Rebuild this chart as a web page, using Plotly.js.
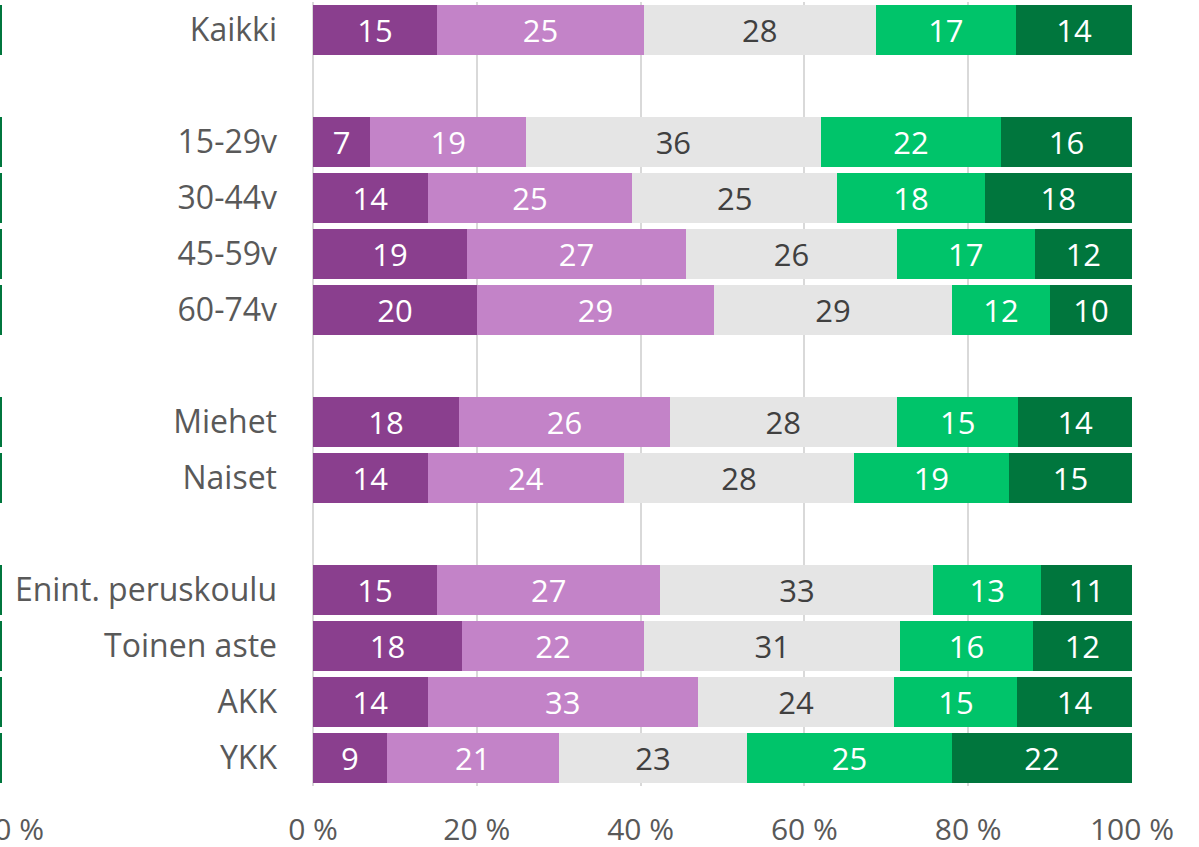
<!DOCTYPE html>
<html>
<head>
<meta charset="utf-8">
<script src="https://cdn.plot.ly/plotly-3.0.1.min.js"></script>
<style>html,body{margin:0;padding:0;background:#fff;}#chart{width:1199px;height:847px;}</style>
</head>
<body>
<div id="chart"></div>
<script>
// Categories (blank entries are the gaps between groups)
const categories = ["Kaikki", " ", "15-29v", "30-44v", "45-59v", "60-74v", "  ", "Miehet", "Naiset", "   ", "Enint. peruskoulu", "Toinen aste", "AKK", "YKK"];

// Series values (percent, as labelled); null for gap rows
const series1 = [15, null, 7, 14, 19, 20, null, 18, 14, null, 15, 18, 14, 9];
const series2 = [25, null, 19, 25, 27, 29, null, 26, 24, null, 27, 22, 33, 21];
const series3 = [28, null, 36, 25, 26, 29, null, 28, 28, null, 33, 31, 24, 23];
const series4 = [17, null, 22, 18, 17, 12, null, 15, 19, null, 13, 16, 15, 25];
const series5 = [14, null, 16, 18, 12, 10, null, 14, 15, null, 11, 12, 14, 22];

// Cut-off neighbouring chart at the left edge: only its bar ends at 100 % are visible
const leftChartEnds = [100, null, 100, 100, 100, 100, null, 100, 100, null, 100, 100, 100, 100];

// Tick labels
const xTickVals = [0, 20, 40, 60, 80, 100];
const xTickText = ["0 %", "20 %", "40 %", "60 %", "80 %", "100 %"];
const leftTickVals = [100];
const leftTickText = ["100 %"];

const colors = ["#8A3F8E", "#C383C8", "#E5E5E5", "#00C46A", "#00763D"];
const textColors = ["#FFFFFF", "#FFFFFF", "#404040", "#FFFFFF", "#FFFFFF"];
const FONT = "'Open Sans', sans-serif";

const allSeries = [series1, series2, series3, series4, series5];
const traces = allSeries.map((vals, i) => ({
  type: "bar",
  orientation: "h",
  y: categories,
  x: vals,
  text: vals.map(v => v == null ? "" : String(v)),
  texttemplate: "%{text}",
  textposition: "inside",
  insidetextanchor: "middle",
  textangle: 0,
  constraintext: "none",
  textfont: {family: FONT, size: 31, color: textColors[i]},
  marker: {color: colors[i], line: {width: 0}},
  hoverinfo: "skip",
  showlegend: false,
  xaxis: "x",
  yaxis: "y"
}));

traces.push({
  type: "bar",
  orientation: "h",
  y: categories,
  x: leftChartEnds,
  marker: {color: "#00763D", line: {width: 0}},
  hoverinfo: "skip",
  showlegend: false,
  xaxis: "x2",
  yaxis: "y"
});

const plotW = 1199 - 67;

const layout = {
  width: 1199,
  height: 847,
  margin: {l: 0, r: 67, t: 2, b: 61},
  paper_bgcolor: "#FFFFFF",
  plot_bgcolor: "#FFFFFF",
  barmode: "stack",
  barnorm: "percent",
  bargap: 0.09,
  showlegend: false,
  font: {family: FONT, color: "#595959"},
  xaxis: {
    domain: [313 / plotW, 1],
    range: [0, 100],
    tickmode: "array",
    tickvals: xTickVals,
    ticktext: xTickText,
    showgrid: true,
    gridcolor: "#D9D9D9",
    gridwidth: 2,
    zeroline: true,
    zerolinecolor: "#D9D9D9",
    zerolinewidth: 2,
    showline: false,
    ticks: "",
    ticklabelstandoff: 23,
    tickfont: {family: FONT, size: 30, color: "#595959"},
    fixedrange: true
  },
  xaxis2: {
    domain: [0, 2 / plotW],
    range: [99.5, 100],
    anchor: "y",
    tickmode: "array",
    tickvals: leftTickVals,
    ticktext: leftTickText,
    showgrid: true,
    gridcolor: "#D9D9D9",
    gridwidth: 2,
    zeroline: false,
    ticks: "",
    ticklabelstandoff: 23,
    ticklabeloverflow: "allow",
    tickfont: {family: FONT, size: 30, color: "#595959"},
    fixedrange: true
  },
  yaxis: {
    type: "category",
    categoryorder: "array",
    categoryarray: categories,
    autorange: "reversed",
    showgrid: false,
    zeroline: false,
    showline: false,
    ticks: "",
    ticklabelstandoff: 35,
    tickfont: {family: FONT, size: 32, color: "#595959"},
    anchor: "x",
    fixedrange: true
  }
};

Plotly.newPlot("chart", traces, layout, {displayModeBar: false, staticPlot: true});
</script>
</body>
</html>
